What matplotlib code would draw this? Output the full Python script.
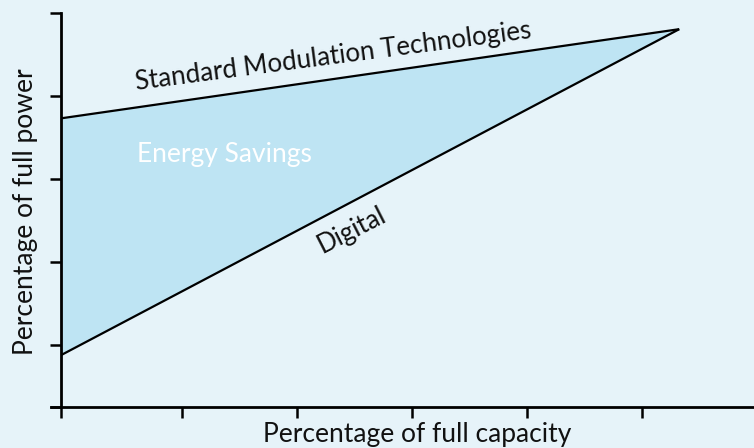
import matplotlib
matplotlib.use("Agg")
import matplotlib.pyplot as plt

capacity = [0, 107.5]
standard_power = [69.6, 91.1]
digital_power = [12.5, 91.1]
x_ticks = [0, 21, 41, 61, 81, 101]
y_ticks = [0, 15, 35, 55, 75, 95]

BG = "#e6f3f9"
FILL = "#bee4f3"
FONT = ["Lato", "DejaVu Sans"]
plt.rcParams['font.family'] = FONT

fig = plt.figure(figsize=(7.54, 4.48), dpi=100, facecolor=BG)
ax = fig.add_axes([61/754, 41/448, 1 - 61/754, (407-13)/448])
ax.set_facecolor(BG)

ax.fill_between(capacity, digital_power, standard_power, color=FILL, lw=0)
ax.plot(capacity, standard_power, color="black", lw=1.6, solid_capstyle="butt")
ax.plot(capacity, digital_power, color="black", lw=1.6, solid_capstyle="butt")

ax.set_xlim(0, 120.5)
ax.set_ylim(0, 95)
ax.set_xticks(x_ticks)
ax.set_yticks(y_ticks)
ax.set_xticklabels([])
ax.set_yticklabels([])
ax.tick_params(axis="both", direction="out", length=8, width=1.8, color="black")
for s in ["top", "right"]:
    ax.spines[s].set_visible(False)
for s in ["left", "bottom"]:
    ax.spines[s].set_linewidth(2)
ax.spines["bottom"].set_bounds(-1.7, 120.5)

ax.text(47.5, 82.8, "Standard Modulation Technologies", rotation=7.5,
        rotation_mode="anchor", ha="center", va="baseline",
        fontsize=18.7, color="#111111")
ax.text(50.6, 42.6, "Digital", rotation=27, rotation_mode="anchor",
        ha="center", va="center", fontsize=18.5, color="#111111")
ax.text(28.4, 59.0, "Energy Savings", ha="center", va="baseline",
        fontsize=19, color="white")

fig.text(417/754, 6/448, "Percentage of full capacity", ha="center",
         va="baseline", fontsize=19, color="#111111")
fig.text(33/754, 1 - 212/448, "Percentage of full power", ha="center",
         va="baseline", rotation=90, rotation_mode="anchor",
         fontsize=19, color="#111111")

fig.savefig("out.png", dpi=100, facecolor=BG)
